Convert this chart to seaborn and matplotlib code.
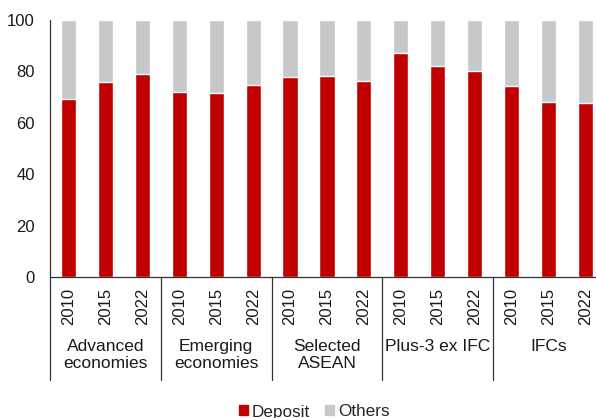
import matplotlib
matplotlib.use("Agg")
import matplotlib.pyplot as plt
import matplotlib.transforms as mtransforms
from matplotlib.patches import Patch
import pandas as pd
import seaborn as sns

# Data (share of total, %)
groups = ["Advanced\neconomies", "Emerging\neconomies", "Selected\nASEAN",
          "Plus-3 ex IFC", "IFCs"]
years = ["2010", "2015", "2022"]
deposit = [69.2, 76.0, 79.1,
           72.0, 71.6, 74.7,
           77.8, 78.3, 76.2,
           87.3, 82.1, 80.1,
           74.3, 68.2, 67.7]
others = [round(100 - d, 1) for d in deposit]

red = "#C00000"
grey = "#C7C8CA"

rows = []
for gi, g in enumerate(groups):
    for yi, y in enumerate(years):
        k = gi * len(years) + yi
        rows.append({"slot": f"{gi}-{y}", "year": y, "group": g,
                     "deposit": deposit[k], "total": deposit[k] + others[k]})
df = pd.DataFrame(rows)

sns.set_style("white")
plt.rcParams["font.family"] = ["Liberation Sans", "DejaVu Sans"]

fig = plt.figure(figsize=(5.96, 4.18), dpi=100)
ax = fig.add_axes([0.0839, 0.3373, 0.9295, 0.6148])

sns.barplot(data=df, x="slot", y="total", color=grey, width=0.41,
            saturation=1, ax=ax)
sns.barplot(data=df, x="slot", y="deposit", color=red, width=0.41,
            saturation=1, ax=ax)

ax.set_xlim(-0.5, len(df) - 0.5)
ax.set_ylim(0, 100)
ax.set_yticks(range(0, 101, 20))
ax.set_xticks(range(len(df)))
ax.set_xticklabels(df["year"], rotation=90)
ax.set_xlabel("")
ax.set_ylabel("")
ax.tick_params(axis="y", length=0, pad=11, labelsize=12, colors="#1a1a1a")
ax.tick_params(axis="x", length=0, pad=8, labelsize=12, colors="#1a1a1a")

for side in ["top", "right"]:
    ax.spines[side].set_visible(False)
for side in ["left", "bottom"]:
    ax.spines[side].set_color("#333333")
    ax.spines[side].set_linewidth(0.9)

# group separators below the axis
trans = mtransforms.blended_transform_factory(ax.transData, ax.transAxes)
for xb in [-0.5, 2.5, 5.5, 8.5, 11.5]:
    ax.plot([xb, xb], [0, -0.402], color="#333333", lw=0.9,
            transform=trans, clip_on=False)

for gi, g in enumerate(groups):
    ax.text(gi * 3 + 1, -0.243, g, transform=trans, ha="center", va="top",
            fontsize=12.5, color="#1a1a1a", linespacing=1.13)

handles = [Patch(color=red, label="Deposit"), Patch(color=grey, label="Others")]
fig.legend(handles=handles, loc="center", bbox_to_anchor=(314 / 596, 1 - 412 / 418),
           ncol=2, frameon=False, handlelength=0.53, handleheight=0.53,
           handletextpad=0.23, columnspacing=0.88, fontsize=12.3,
           borderpad=0, borderaxespad=0)

fig.savefig("out.png", dpi=100)
